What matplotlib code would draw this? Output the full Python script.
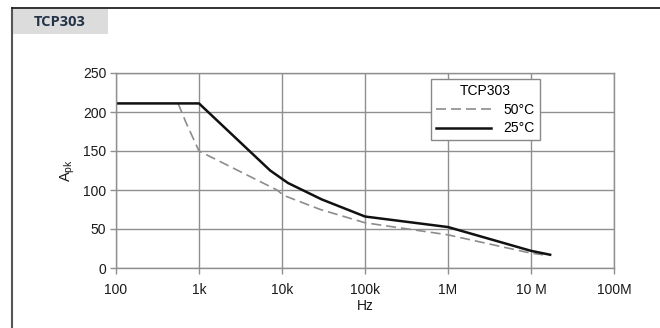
import matplotlib.pyplot as plt
from matplotlib.patches import Rectangle
from matplotlib.lines import Line2D

# 25 degC curve (solid)
freq_25 = [100, 1000, 7200, 11800, 30000, 100000, 1000000, 10000000, 17000000]
amp_25 = [211, 211, 125, 109, 88, 66, 52.5, 22, 17]

# 50 degC curve (dashed)
freq_50 = [560, 700, 1000, 8700, 10500, 29000, 100000, 1000000, 10000000, 14000000]
amp_50 = [211, 186, 150, 100, 93, 75, 58, 42.5, 19, 17]

xticks = [100, 1e3, 1e4, 1e5, 1e6, 1e7, 1e8]
xlabels = ['100', '1k', '10k', '100k', '1M', '10 M', '100M']
yticks = [0, 50, 100, 150, 200, 250]

plt.rcParams['font.family'] = ['Liberation Sans', 'DejaVu Sans']

fig = plt.figure(figsize=(6.6, 3.28), dpi=100)

# outer frame and header tab
fig.add_artist(Line2D([12 / 660, 12 / 660], [0, 1 - 8 / 328], color='#555555', lw=1.5))
fig.add_artist(Line2D([12 / 660, 1], [1 - 8 / 328, 1 - 8 / 328], color='#222222', lw=1.3))
fig.add_artist(Rectangle((13 / 660, 1 - 34 / 328), 95 / 660, 25 / 328,
                         facecolor='#dcdcdc', edgecolor='none'))
fig.text(60 / 660, 1 - 21.5 / 328, 'TCP303', ha='center', va='center',
         fontsize=10.5, fontweight='bold', color='#243447', family='Open Sans')

ax = fig.add_axes([116 / 660, 1 - 268 / 328, 498 / 660, 195 / 328])
ax.set_xscale('log')
ax.set_xlim(100, 1e8)
ax.set_ylim(0, 250)

ax.plot(freq_50, amp_50, color='#8c8c8c', lw=1.2, dashes=(6, 3), label='50°C')
ax.plot(freq_25, amp_25, color='#111111', lw=1.8, label='25°C')

ax.set_xticks(xticks)
ax.set_xticklabels(xlabels)
ax.minorticks_off()
ax.set_yticks(yticks)
ax.grid(True, color='#8f8f8f', lw=1.0)
for s in ax.spines.values():
    s.set_color('#8f8f8f')
    s.set_linewidth(1.0)
ax.tick_params(length=4, width=1, color='#8f8f8f', labelsize=10, pad=3,
               labelcolor='#1a1a1a')
ax.tick_params(axis='x', pad=7)

ax.set_xlabel('Hz', fontsize=10, labelpad=1, color='#1a1a1a')
ax.set_ylabel(r'A$_{\mathregular{pk}}$', fontsize=10.5, labelpad=4, color='#1a1a1a')

leg = ax.legend(title='TCP303', loc='upper left', bbox_to_anchor=(0.632, 0.97),
                fontsize=10, title_fontsize=10, frameon=True, fancybox=False,
                edgecolor='#888888', framealpha=1, borderpad=0.35,
                handlelength=4.0, handletextpad=0.9, labelspacing=0.35,
                borderaxespad=0)
leg.get_frame().set_linewidth(1.0)

fig.savefig('out.png', dpi=100)
